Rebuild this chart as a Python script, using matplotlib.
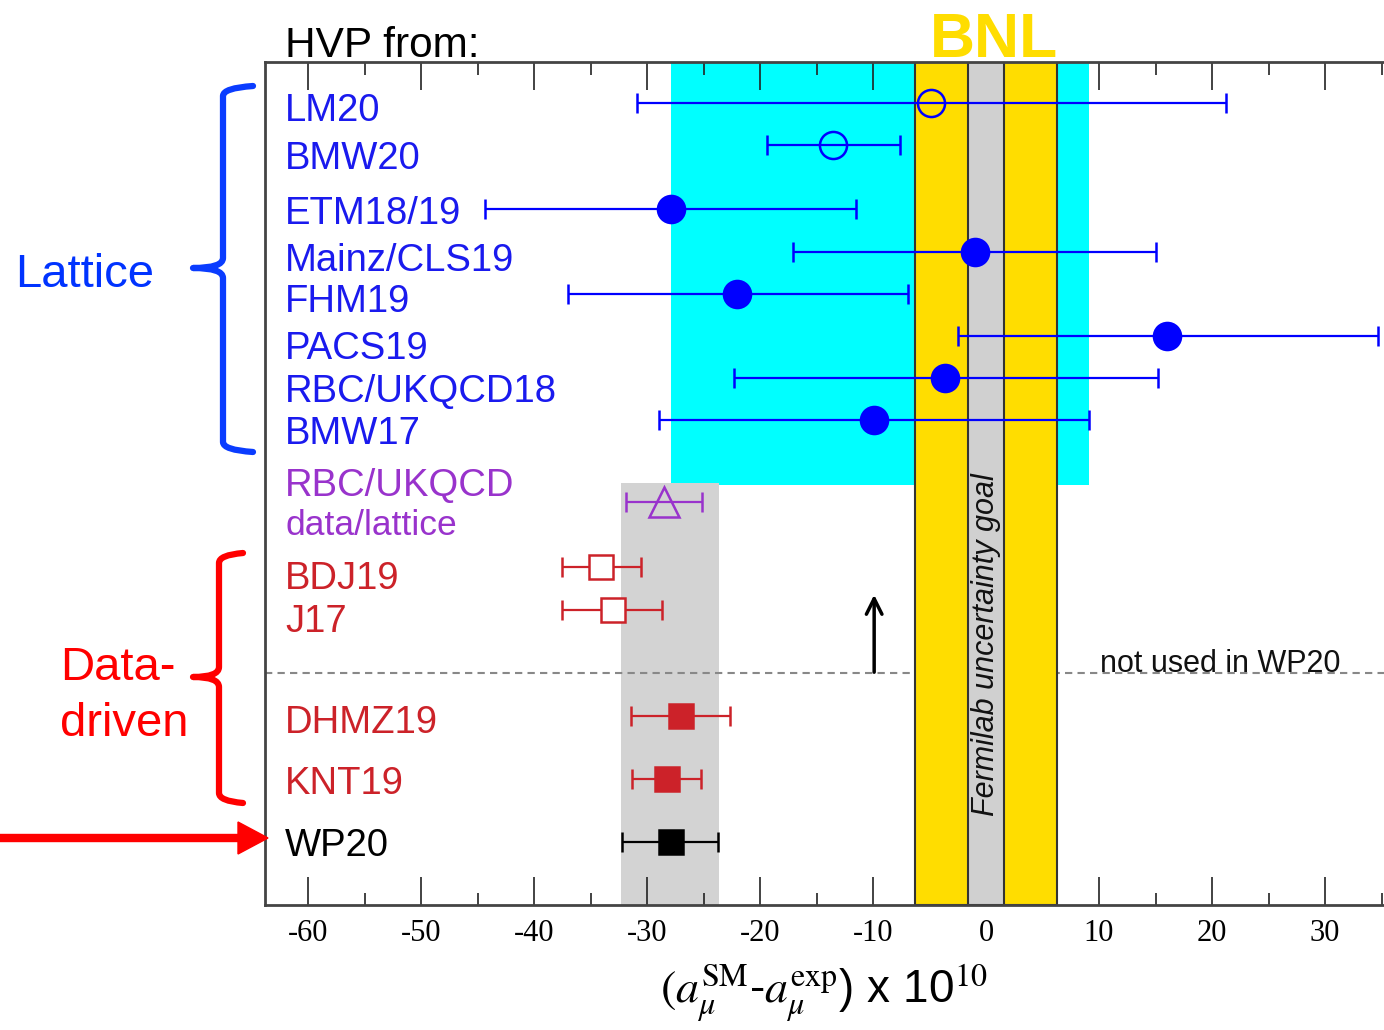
import matplotlib
matplotlib.use("Agg")
import matplotlib.pyplot as plt
from matplotlib import transforms
from matplotlib.path import Path
from matplotlib.patches import PathPatch, FancyArrow

plt.rcParams['font.family'] = ['Liberation Sans', 'DejaVu Sans']
plt.rcParams['mathtext.fontset'] = 'stix'

# --- data (a_mu^SM - a_mu^exp) x 1e10 ---
names = ["LM20", "BMW20", "ETM18/19", "Mainz/CLS19", "FHM19", "PACS19",
         "RBC/UKQCD18", "BMW17", "RBC/UKQCD", "BDJ19", "J17",
         "DHMZ19", "KNT19", "WP20"]
central = [-4.9, -13.5, -27.9, -1.0, -22.0, 16.0, -3.6, -9.9,
           -28.5, -34.1, -33.0, -27.0, -28.2, -27.9]
err_lo = [26.0, 5.9, 16.4, 16.1, 15.0, 18.5, 18.7, 19.0,
          3.4, 3.4, 4.5, 4.4, 3.1, 4.3]
err_hi = [26.1, 5.9, 16.4, 16.0, 15.1, 18.7, 18.8, 19.0,
          3.4, 3.6, 4.3, 4.3, 3.0, 4.2]
groups = ["lat", "lat", "lat", "lat", "lat", "lat", "lat", "lat",
          "mix", "dd", "dd", "dd", "dd", "wp"]
markers = ["o", "o", "o", "o", "o", "o", "o", "o", "^", "s", "s", "s", "s", "s"]
filled = [False, False, True, True, True, True, True, True,
          False, False, False, True, True, True]

bnl_err = 6.3
fnal_err = 1.6
lattice_band = [-27.9, 9.1]
wp_band = [-32.3, -23.6]

# --- layout (rows in pixel-like units from top of figure) ---
row_y = [103, 145, 209, 252, 294, 336, 378, 420, 502, 567, 610, 716, 779, 842]
label_base = [121, 169, 224, 271, 312, 359, 402, 444, 496, 589, 632, 733, 794, 856]
colors = {"lat": "#0000ff", "mix": "#9933cc", "dd": "#cc2229", "wp": "#000000"}
label_colors = {"lat": "#1a1aee", "mix": "#9933cc", "dd": "#cc2229", "wp": "#000000"}

W, H = 1384, 1030
fig = plt.figure(figsize=(W / 100, H / 100), dpi=100)
ax = fig.add_axes([265 / W, 1 - 905 / H, (W - 265) / W, (905 - 62) / H])
ax.set_xlim(-63.81, 35.22)
ax.set_ylim(905, 62)

# pixel transform for figure annotations (y down)
pix = transforms.Affine2D().scale(1 / W, -1 / H).translate(0, 1) + fig.transFigure

# bands
ax.axvspan(lattice_band[0], lattice_band[1], ymin=1 - (485 - 62) / 843, ymax=1,
           color="#00ffff", lw=0, zorder=1)
ax.axvspan(wp_band[0], wp_band[1], ymin=0, ymax=1 - (483 - 62) / 843,
           color="#d3d3d3", lw=0, zorder=1.5)
ax.axhline(673, color="#888888", lw=1.5, ls=(0, (3.5, 2.5)), zorder=2)
ax.axvspan(-bnl_err, bnl_err, facecolor="#ffdd00", edgecolor="#333333", lw=1.5, zorder=3)
ax.axvspan(-fnal_err, fnal_err, facecolor="#d0d0d0", edgecolor="#333333", lw=1.5, zorder=3.5)

# points
for i in range(len(names)):
    c = colors[groups[i]]
    ms = 19.5
    if markers[i] == "^":
        ms = 21
    if markers[i] == "s":
        ms = 17
    face = c if filled[i] else ("white" if markers[i] == "s" else "none")
    ax.errorbar(central[i], row_y[i], xerr=[[err_lo[i]], [err_hi[i]]],
                fmt=markers[i], color=c, mfc=face, mec=c, mew=1.8, ms=ms,
                elinewidth=1.6, capsize=7.5, capthick=1.6, zorder=6, clip_on=False)

# labels
btr = transforms.blended_transform_factory(ax.transAxes, ax.transData)
for i in range(len(names)):
    ax.text(0.018, label_base[i], names[i], transform=btr, ha="left", va="baseline",
            fontsize=27.5, color=label_colors[groups[i]], zorder=7)
ax.text(0.018, 535, "data/lattice", transform=btr, ha="left", va="baseline",
        fontsize=25.5, color=label_colors["mix"], zorder=7)

ax.text(0, 645, "Fermilab uncertainty goal", rotation=90, ha="center", va="center",
        fontsize=22, style="italic", color="#111111", zorder=8)
ax.text(10.1, 672, "not used in WP20", ha="left", va="baseline",
        fontsize=22, color="#111111", zorder=8)
ax.annotate("", xy=(-9.9, 592), xytext=(-9.9, 675),
            arrowprops=dict(arrowstyle="->", lw=2.5, color="black",
                            mutation_scale=28), zorder=8)

# axes styling
for s in ["left", "top", "bottom"]:
    ax.spines[s].set_linewidth(2)
    ax.spines[s].set_color("#444444")
    ax.spines[s].set_zorder(9)
ax.spines["right"].set_visible(False)
ax.set_yticks([])
ax.set_xticks(range(-60, 31, 10))
ax.set_xticks(range(-55, 36, 10), minor=True)
ax.tick_params(axis="x", which="both", direction="in", top=True, bottom=True,
               color="#222222", width=1.2, zorder=9)
ax.tick_params(axis="x", which="major", length=20, pad=10)
ax.tick_params(axis="x", which="minor", length=9)
ax.set_xticklabels([str(v) for v in range(-60, 31, 10)],
                   fontfamily="Liberation Serif", fontsize=22)

# titles / annotations around the axes
fig.text(285, 57, "HVP from:", transform=pix, fontsize=30.5, ha="left", va="baseline")
fig.text(994, 57, "BNL", transform=pix, fontsize=45, fontweight="bold",
         color="#ffdd00", ha="center", va="baseline")
fig.text(824, 1003, r"$(a_{\mu}^{\mathrm{SM}}$-$a_{\mu}^{\mathrm{exp}}$) x 10$^{10}$",
         transform=pix, fontsize=33, ha="center", va="baseline")

fig.text(15, 287, "Lattice", transform=pix, fontsize=34, color="#0033ff",
         ha="left", va="baseline")
fig.text(60, 680, "Data-", transform=pix, fontsize=34, color="#ff0000",
         ha="left", va="baseline")
fig.text(60, 736, "driven", transform=pix, fontsize=34, color="#ff0000",
         ha="left", va="baseline")


def brace(xs, xt, xtip, y0, ym, y1, color):
    r = 10
    verts = [(xt, y0), (xs, y0 + 2), (xs, y0 + r),
             (xs, ym - r), (xs, ym), (xtip, ym),
             (xs, ym), (xs, ym + r),
             (xs, y1 - r), (xs, y1 - 2), (xt, y1)]
    codes = [Path.MOVETO, Path.CURVE3, Path.CURVE3,
             Path.LINETO, Path.CURVE3, Path.CURVE3,
             Path.CURVE3, Path.CURVE3,
             Path.LINETO, Path.CURVE3, Path.CURVE3]
    fig.patches.append(PathPatch(Path(verts, codes), transform=pix, fill=False,
                                 edgecolor=color, lw=4.5, capstyle="round",
                                 joinstyle="round"))


brace(223, 253, 193, 86, 268, 452, "#0a3cff")
brace(219, 243, 193, 553, 677, 803, "#ff0000")

fig.patches.append(FancyArrow(0, 838, 268, 0, width=7, head_width=32, head_length=30,
                              length_includes_head=True, color="#ff0000",
                              transform=pix))

fig.savefig("out.png", dpi=100)
